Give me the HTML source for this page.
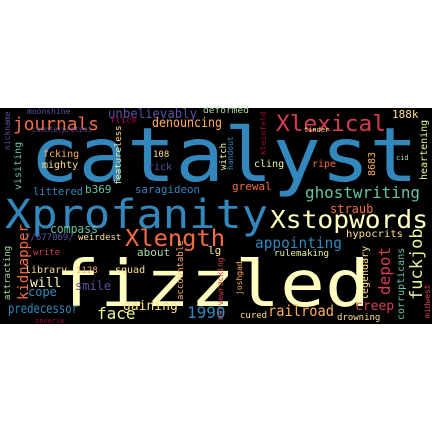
<!DOCTYPE html>
<html><head><meta charset="utf-8"><style>
html,body{margin:0;padding:0;background:#fff;width:432px;height:432px;overflow:hidden}
svg{display:block}
text{font-family:"DejaVu Sans Mono","Liberation Mono",monospace}
</style></head><body>
<svg id="wc" width="432" height="432" viewBox="0 0 432 432">
<rect x="0" y="108" width="432" height="216" fill="#000"/>
<g id="words"></g>
</svg>
<script>
// word, x, baseline y, font size, colour, rotated(1=vertical), target length
const words=["catalyst","Xprofanity","fizzled","Xstopwords","Xlexical","Xlength","journals","unbelievably","denouncing","moonshine","flick","counterprotest","deformed","fcking","mighty","108","rick","littered","b369","saragideon","featureless","visiting","nickname","188k","heartening","kleinfeld","tinder","witch","handout","cling","ripe","8683","cid","grewal","straub","ghostwriting","hypocrits","appointing","rulemaking","legendary","corrupticans","depot","fuckjob","midwest","nervewracking","joshgad","creep","railroad","cured","drowning","compass","7/677069/","weirdest","kidnapper","attracting","write","about","lg","library","1128","squad","accountable","will","cope","smile","predecessor","inverse","face","gaining","1990"];
const xs=[30,5,55,270,276,125,13,108,152,27,110,32,203,43,42,153,148,33,85,135,121,21,10,392,427,266,304,226,233,254,312,375,396,232,330,305,346,255,274,368,404,390,422,430,223,242,355,268,240,337,50,25,78,28,10,33,137,208,25,76,115,183,30,28,75,8,35,97,123,187];
const ys=[181,228,306,228,131,246,130,118,127,114,123,132,113,157,168,157,170,195,193,193,185,190,150,118,180,155,132,170,170,167,167,176,160,190,213,198,237,248,256,300,320,295,300,318,320,295,310,316,318,320,233,240,240,300,300,255,256,254,273,273,273,300,287,296,290,313,323,319,310,318];
const sizes=[75,40,64,25,22,23,18,13,13,8,9,8,9,10,10,9,10,11,11,11,9,10,8,11,10,8,7,9,8,10,10,10,7,11,12,16,10,15,9,10,10,16,17,8,8,8,13,15,9,9,12,9,9,14,9,9,11,11,10,9,10,9,13,12,12,13,7,16,13,16];
const colors=["#3288bd","#3288bd","#ffffbf","#ffffbf","#d53e4f","#f46d43","#f46d43","#5e4fa2","#fdae61","#5e4fa2","#9e0142","#5e4fa2","#abdda4","#fdae61","#fee08b","#fee08b","#5e4fa2","#3288bd","#66c2a5","#3288bd","#fee08b","#66c2a5","#5e4fa2","#fee08b","#e6f598","#9e0142","#fee08b","#e6f598","#3288bd","#e6f598","#f46d43","#fdae61","#abdda4","#f46d43","#f46d43","#66c2a5","#fee08b","#3288bd","#e6f598","#fee08b","#66c2a5","#d53e4f","#e6f598","#d53e4f","#d53e4f","#fdae61","#d53e4f","#fdae61","#fee08b","#fee08b","#66c2a5","#5e4fa2","#fee08b","#f46d43","#abdda4","#d53e4f","#abdda4","#fee08b","#fee08b","#fdae61","#fee08b","#fdae61","#ffffbf","#3288bd","#5e4fa2","#3288bd","#9e0142","#e6f598","#fee08b","#3288bd"];
const vertical=[0,0,0,0,0,0,0,0,0,0,0,0,0,0,0,0,0,0,0,0,1,1,1,0,1,1,0,1,1,0,0,1,0,0,0,0,0,0,0,1,1,1,1,1,1,1,0,0,0,0,0,0,0,1,1,0,0,0,0,0,0,1,0,0,0,0,0,0,0,0];
const lens=[388,263,315,158,110,100,86,89,70,0,0,60,46,0,0,0,0,50,0,65,0,0,0,0,0,0,0,0,0,0,0,0,0,0,0,115,57,87,55,0,0,0,0,0,0,0,0,66,0,0,48,0,0,0,0,0,0,0,0,0,0,0,0,0,0,70,0,0,0,0];
const g=document.getElementById('words');
const NS='http://www.w3.org/2000/svg';
for(let i=0;i<words.length;i++){
  const t=document.createElementNS(NS,'text');
  
  
  t.setAttribute('x',xs[i]);
  t.setAttribute('y',ys[i]);
  t.setAttribute('font-size',sizes[i]);
  t.setAttribute('fill',colors[i]);
  if(lens[i]>0){t.setAttribute('textLength',lens[i]);t.setAttribute('lengthAdjust','spacingAndGlyphs');}
  if(vertical[i]) t.setAttribute('transform','rotate(-90 '+xs[i]+' '+ys[i]+')');
  t.textContent=words[i];
  g.appendChild(t);
}
</script>
</body></html>
